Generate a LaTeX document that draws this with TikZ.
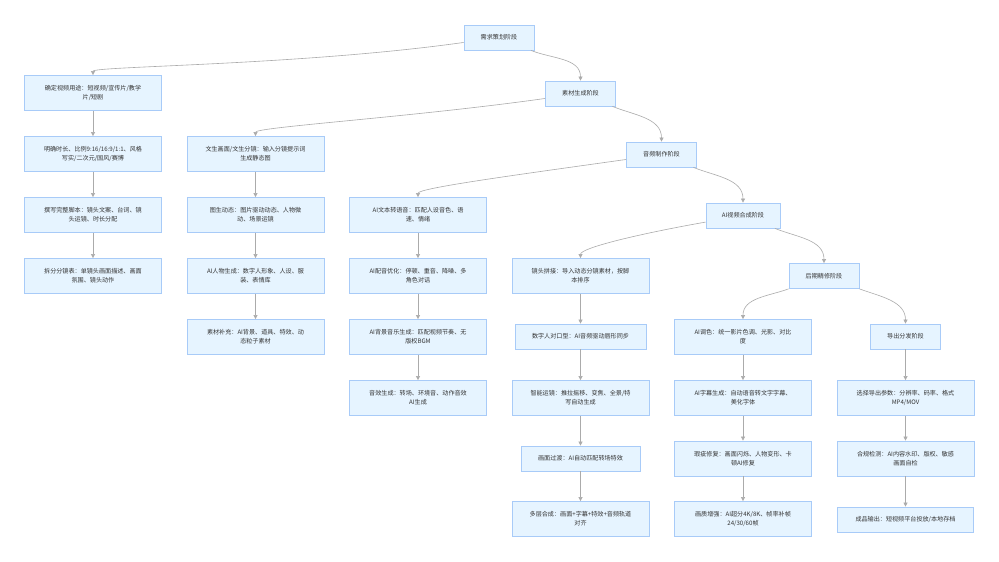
\documentclass[tikz,border=0pt]{standalone}
\usepackage{fontspec}
\setmainfont{Noto Sans CJK SC}
\usepackage{tikz}
\usetikzlibrary{arrows.meta}

\definecolor{boxfill}{HTML}{E6F4FF}
\definecolor{boxline}{HTML}{A8CBF8}
\definecolor{linkgray}{HTML}{ABABAB}
\definecolor{txtgray}{HTML}{333333}

\begin{document}
\begin{tikzpicture}[
    x=1pt, y=1pt,
    font=\fontsize{6.1}{9.3}\selectfont,
    taskbox/.style={draw=boxline, fill=boxfill, thick, text=txtgray, align=center, minimum width=137pt, minimum height=35pt, inner sep=0pt},
    taskslim/.style={draw=boxline, fill=boxfill, thick, text=txtgray, align=center, minimum height=25pt, inner sep=0pt},
    phase/.style={taskslim, minimum width=70pt},
    flow/.style={-{Triangle[length=4pt,width=4pt]}, semithick, draw=linkgray}
]
\fill[white] (0,0) rectangle (999,-562);

% Phases
\node[phase] (plan) at (499,-37.5) {需求策划阶段};
\node[phase] (material) at (580.5,-93.5) {素材生成阶段};
\node[phase] (audio) at (661.5,-154.5) {音频制作阶段};
\node[phase, minimum width=74pt] (video) at (743,-215.5) {AI视频合成阶段};
\node[phase] (post) at (824,-276) {后期精修阶段};
\node[phase] (export) at (905.5,-336.5) {导出分发阶段};

% Planning column
\node[taskbox] (plan1) at (93,-93) {确定视频用途：短视频/宣传片/教学\\片/短剧};
\node[taskbox] (plan2) at (93,-154) {明确时长、比例9:16/16:9/1:1、风格\\写实/二次元/国风/赛博};
\node[taskbox] (plan3) at (93,-215) {撰写完整脚本：镜头文案、台词、镜\\头运镜、时长分配};
\node[taskbox] (plan4) at (93,-276) {拆分分镜表：单镜头画面描述、画面\\氛围、镜头动作};

% Material column
\node[taskbox] (mat1) at (255.5,-154) {文生画面/文生分镜：输入分镜提示词\\生成静态图};
\node[taskbox] (mat2) at (255.5,-215) {图生动态：图片驱动动态、人物微\\动、场景运镜};
\node[taskbox] (mat3) at (255.5,-276) {AI人物生成：数字人形象、人设、服\\装、表情库};
\node[taskbox] (mat4) at (255.5,-337) {素材补充：AI背景、道具、特效、动\\态粒子素材};

% Audio column
\node[taskbox] (aud1) at (418,-215) {AI文本转语音：匹配人设音色、语\\速、情绪};
\node[taskbox] (aud2) at (418,-276) {AI配音优化：停顿、重音、降噪、多\\角色对话};
\node[taskbox] (aud3) at (418,-337) {AI背景音乐生成：匹配视频节奏、无\\版权BGM};
\node[taskbox] (aud4) at (418,-398) {音效生成：转场、环境音、动作音效\\AI生成};

% Video column
\node[taskbox] (vid1) at (580.5,-276) {镜头拼接：导入动态分镜素材，按脚\\本排序};
\node[taskslim, minimum width=131pt] (vid2) at (580.5,-336.5) {数字人对口型：AI音频驱动唇形同步};
\node[taskbox] (vid3) at (580.5,-398) {智能运镜：推拉摇移、变焦、全景/特\\写自动生成};
\node[taskslim, minimum width=119pt] (vid4) at (580.5,-458.5) {画面过渡：AI自动匹配转场特效};
\node[taskbox] (vid5) at (580.5,-519) {多层合成：画面+字幕+特效+音频轨道\\对齐};

% Post column
\node[taskbox] (pst1) at (743,-337) {AI调色：统一影片色调、光影、对比\\度};
\node[taskbox] (pst2) at (743,-398) {AI字幕生成：自动语音转文字字幕、\\美化字体};
\node[taskbox] (pst3) at (743,-458.5) {瑕疵修复：画面闪烁、人物变形、卡\\顿AI修复};
\node[taskbox] (pst4) at (743,-519) {画质增强：AI超分4K/8K、帧率补帧\\24/30/60帧};

% Export column
\node[taskbox] (exp1) at (905.5,-398) {选择导出参数：分辨率、码率、格式\\MP4/MOV};
\node[taskbox] (exp2) at (905.5,-458.5) {合规检测：AI内容水印、版权、敏感\\画面自检};
\node[taskslim, minimum width=136pt] (exp3) at (905.5,-519.5) {成品输出：短视频平台投放/本地存档};

% Phase chain
\draw[flow] (plan) to[out=-22, in=90] (material);
\draw[flow] (material) to[out=-22, in=90] (audio);
\draw[flow] (audio) to[out=-22, in=90] (video);
\draw[flow] (video) to[out=-22, in=90] (post);
\draw[flow] (post) to[out=-20, in=90] (export);

% Branches into columns
\draw[flow] (plan) to[out=188, in=90, out distance=165pt, in distance=9pt] (plan1);
\draw[flow] (material) to[out=188, in=90, out distance=135pt, in distance=9pt] (mat1);
\draw[flow] (audio) to[out=188, in=90, out distance=110pt, in distance=9pt] (aud1);
\draw[flow] (video) to[out=190, in=90, out distance=70pt, in distance=10pt] (vid1);
\draw[flow] (post) to[out=200, in=90] (pst1);

% Column chains
\draw[flow] (plan1) -- (plan2);
\draw[flow] (plan2) -- (plan3);
\draw[flow] (plan3) -- (plan4);
\draw[flow] (mat1) -- (mat2);
\draw[flow] (mat2) -- (mat3);
\draw[flow] (mat3) -- (mat4);
\draw[flow] (aud1) -- (aud2);
\draw[flow] (aud2) -- (aud3);
\draw[flow] (aud3) -- (aud4);
\draw[flow] (vid1) -- (vid2);
\draw[flow] (vid2) -- (vid3);
\draw[flow] (vid3) -- (vid4);
\draw[flow] (vid4) -- (vid5);
\draw[flow] (pst1) -- (pst2);
\draw[flow] (pst2) -- (pst3);
\draw[flow] (pst3) -- (pst4);
\draw[flow] (export) -- (exp1);
\draw[flow] (exp1) -- (exp2);
\draw[flow] (exp2) -- (exp3);

\end{tikzpicture}
\end{document}
